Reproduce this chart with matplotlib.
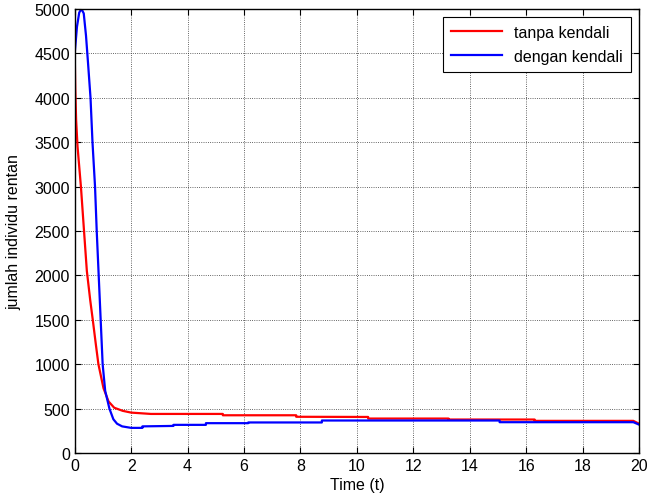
import numpy as np
import matplotlib.pyplot as plt

plt.rcParams['font.family'] = ['Liberation Sans', 'DejaVu Sans']

# tanpa kendali (red)
red_t = [0, 0.02, 0.05, 0.1, 0.22, 0.33, 0.43, 0.55, 0.64, 0.75, 0.84,
         1.02, 1.2, 1.4, 1.7, 2.0, 2.7, 5.25, 5.25, 7.85, 7.85, 10.4, 10.4,
         13.25, 13.25, 16.3, 16.3, 19.8, 20.0]
red_v = [4500, 4100, 3750, 3450, 3000, 2500, 2050, 1720, 1500, 1220, 1000,
         730, 580, 510, 475, 455, 440, 440, 425, 425, 408, 406, 388,
         388, 377, 377, 362, 362, 330]

# dengan kendali (blue)
blue_t = [0, 0.08, 0.16, 0.24, 0.32, 0.4, 0.47, 0.56, 0.63, 0.72, 0.78,
          0.85, 0.92, 0.99, 1.08, 1.23, 1.37, 1.5, 1.68, 2.0, 2.4, 2.4,
          3.5, 3.5, 4.65, 4.65, 6.15, 6.15, 8.76, 8.76, 15.06, 15.06, 19.8, 20.0]
blue_v = [4500, 4800, 4960, 5000, 4950, 4700, 4400, 4000, 3500, 3000, 2500,
          2000, 1500, 1000, 700, 500, 380, 330, 300, 283, 283, 300,
          305, 317, 317, 336, 336, 344, 344, 366, 366, 347, 347, 320]

fs = 11.5

fig = plt.figure(figsize=(6.48, 5.02), dpi=100)
ax = fig.add_axes([0.1153, 0.0956, 0.8708, 0.8845])

ax.plot(red_t, red_v, color='red', linewidth=1.6, label='tanpa kendali')
ax.plot(blue_t, blue_v, color='blue', linewidth=1.6, label='dengan kendali')

ax.set_xlim(0, 20)
ax.set_ylim(0, 5000)
ax.set_xticks(np.arange(0, 21, 2))
ax.set_yticks(np.arange(0, 5001, 500))
ax.grid(True, color='#333333', linestyle=':', linewidth=0.6)
ax.tick_params(direction='in', top=True, right=True, labelsize=fs, length=4)
for s in ax.spines.values():
    s.set_linewidth(1.0)

ax.set_xlabel('Time (t)', fontsize=fs, labelpad=3)
ax.set_ylabel('jumlah individu rentan', fontsize=fs, labelpad=9)

leg = ax.legend(loc='upper right', fontsize=fs, fancybox=False,
                framealpha=1, edgecolor='black', borderaxespad=0.5,
                handlelength=3.2, labelspacing=0.55, borderpad=0.5)
leg.get_frame().set_linewidth(0.8)

fig.savefig('out.png', dpi=100)
